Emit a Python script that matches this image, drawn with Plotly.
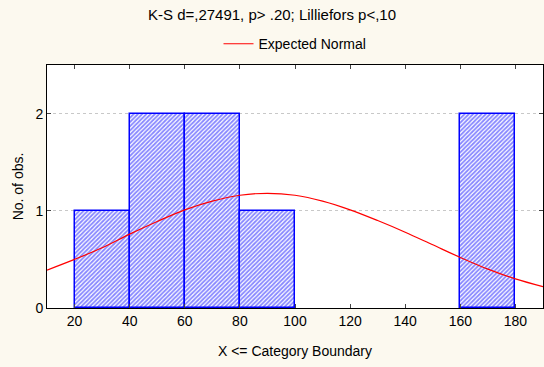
import plotly.graph_objects as go

# histogram bins (upper boundary) and counts
bin_left = [20, 40, 60, 80, 160]
bin_right = [40, 60, 80, 100, 180]
counts = [1, 2, 2, 1, 2]

# expected normal curve
curve_x = [10, 20, 30, 40, 50, 60, 70, 80, 90, 100, 110, 120, 130, 140, 150, 160, 170, 180, 190]
curve_y = [0.39, 0.50, 0.62, 0.76, 0.89, 1.01, 1.10, 1.16, 1.18, 1.16, 1.10, 1.01,
           0.90, 0.78, 0.65, 0.52, 0.40, 0.30, 0.22]

x_ticks = [20, 40, 60, 80, 100, 120, 140, 160, 180]
y_ticks = [0, 1, 2]

centers = [(a + b) / 2 for a, b in zip(bin_left, bin_right)]
widths = [b - a for a, b in zip(bin_left, bin_right)]

fig = go.Figure()

fig.add_trace(go.Bar(
    x=centers, y=counts, width=widths, showlegend=False,
    marker=dict(color='white', line=dict(color='#0000ff', width=1.5),
                pattern=dict(shape='/', fgcolor='#1010ff', bgcolor='white',
                             size=3, solidity=0.6)),
))

fig.add_trace(go.Scatter(
    x=curve_x, y=curve_y, mode='lines', name='Expected Normal',
    line=dict(color='#ff0000', width=1.2, shape='spline'),
))

font = dict(family='Liberation Sans, Arial, sans-serif', size=14, color='black')

fig.update_layout(
    width=544, height=367,
    margin=dict(l=47, r=1, t=65, b=59),
    paper_bgcolor='#fcf9ef', plot_bgcolor='white',
    font=font,
    title=dict(text='K-S d=,27491, p> .20; Lilliefors p<,10', x=0.5, xanchor='center',
               y=0.975, yanchor='top', font=dict(size=15)),
    legend=dict(orientation='h', x=0.5, xanchor='center', y=1.02, yanchor='bottom',
                bgcolor='rgba(0,0,0,0)', font=dict(size=14)),
    bargap=0,
)

fig.update_xaxes(
    range=[10, 190], tickvals=x_ticks, ticks='inside', ticklen=4,
    showline=True, linecolor='black', linewidth=1, mirror='ticks',
    showgrid=False, zeroline=False, automargin=False,
    tickfont=dict(size=14),
    title=dict(text='X <= Category Boundary', standoff=18, font=dict(size=14)),
)
fig.update_yaxes(
    range=[0, 2.5], tickvals=y_ticks, ticks='inside', ticklen=4,
    showline=True, linecolor='black', linewidth=1, mirror='ticks',
    showgrid=True, gridcolor='#c8c8c8', griddash='dot', gridwidth=1,
    zeroline=False, automargin=False,
    tickfont=dict(size=14),
    title=dict(text='No. of obs.', standoff=8, font=dict(size=14)),
)

fig.write_html('out.html', config={'displayModeBar': False},
               post_script="document.body.style.margin='0';")
